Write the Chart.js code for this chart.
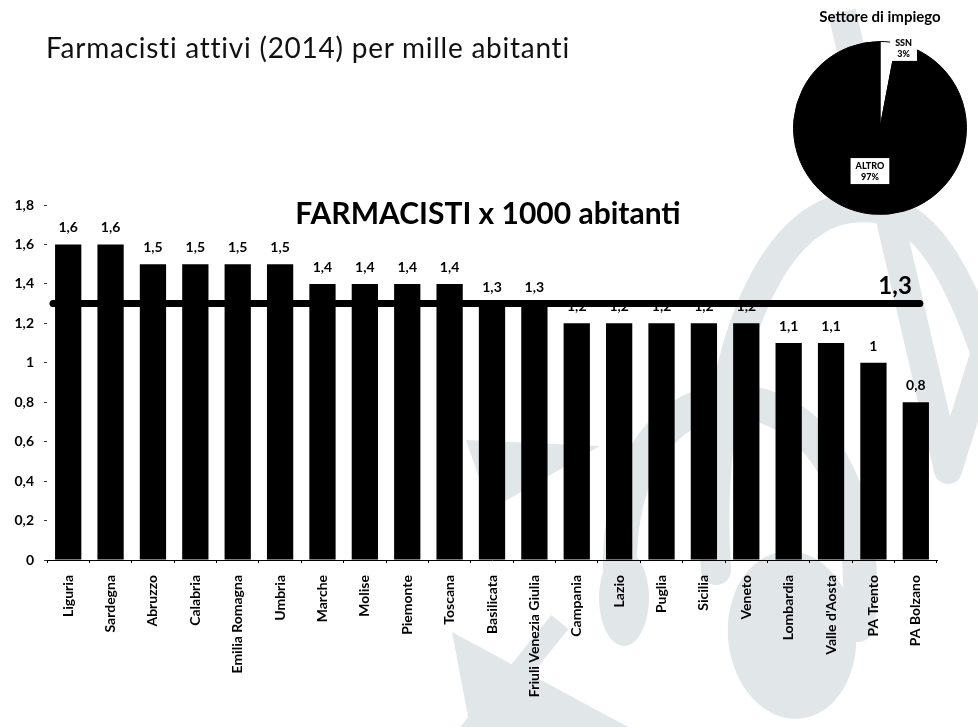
<!DOCTYPE html>
<html lang="it">
<head>
<meta charset="utf-8">
<title>Farmacisti attivi (2014) per mille abitanti</title>
<script src="https://cdn.jsdelivr.net/npm/chart.js@4.4.1/dist/chart.umd.min.js"></script>
<style>
  html, body { margin:0; padding:0; background:#fff; }
  body { width:978px; height:727px; position:relative; overflow:hidden; font-family:"Lato", sans-serif; }
  #barre { position:absolute; left:0; top:0; }
  #torta { position:absolute; left:782px; top:0; }
  .titolo-pagina {
    position:absolute; left:46px; top:30px;
    font-size:28px; color:#111; letter-spacing:0.75px; white-space:nowrap;
  }
</style>
</head>
<body>
<canvas id="barre" width="978" height="727"></canvas>
<div class="titolo-pagina">Farmacisti attivi (2014) per mille abitanti</div>
<canvas id="torta" width="196" height="230"></canvas>

<script>
// ── Dati ─────────────────────────────────────────────────────────
const regioni = [
  "Liguria", "Sardegna", "Abruzzo", "Calabria", "Emilia Romagna", "Umbria",
  "Marche", "Molise", "Piemonte", "Toscana", "Basilicata", "Friuli Venezia Giulia",
  "Campania", "Lazio", "Puglia", "Sicilia", "Veneto", "Lombardia",
  "Valle d'Aosta", "PA Trento", "PA Bolzano"
];
const farmacistiPerMille = [
  1.6, 1.6, 1.5, 1.5, 1.5, 1.5,
  1.4, 1.4, 1.4, 1.4, 1.3, 1.3,
  1.2, 1.2, 1.2, 1.2, 1.2, 1.1,
  1.1, 1.0, 0.8
];
const mediaNazionale = 1.3;
const yMax = 1.8;
const yPasso = 0.2;

const settori = ["SSN", "ALTRO"];
const quoteSettore = [3, 97];

// ── Helpers ──────────────────────────────────────────────────────
const FONT = "Lato, 'Open Sans', sans-serif";
const virgola = v => String(Math.round(v * 10) / 10).replace(".", ",");

// Light watermark painted before anything else
const filigrana = {
  id: "filigrana",
  beforeDraw(chart) {
    const c = chart.ctx;
    c.save();
    c.fillStyle = "#e1e6e9";
    c.strokeStyle = "#e1e6e9";
    c.lineCap = "round";
    c.lineJoin = "round";

    // arch on the right
    c.lineWidth = 30;
    c.beginPath();
    c.moveTo(716, 570);
    c.bezierCurveTo(704, 390, 760, 218, 850, 208);
    c.bezierCurveTo(918, 200, 952, 255, 990, 365);
    c.stroke();

    // inner loop joining the drop
    c.lineWidth = 34;
    c.beginPath();
    c.moveTo(620, 570);
    c.bezierCurveTo(618, 440, 690, 385, 760, 405);
    c.bezierCurveTo(840, 430, 868, 520, 858, 625);
    c.stroke();

    // V in the top-right corner
    c.lineCap = "butt";
    c.lineWidth = 28;
    c.beginPath();
    c.moveTo(842, 12);
    c.lineTo(948, 470);
    c.lineTo(992, 330);
    c.stroke();

    // drops under the axis
    c.beginPath();
    c.ellipse(792, 635, 64, 84, -0.1, 0, Math.PI * 2);
    c.fill();
    c.beginPath();
    c.ellipse(624, 598, 25, 48, 0, 0, Math.PI * 2);
    c.fill();

    // pointed tip on the left of the loop
    c.beginPath();
    c.moveTo(466, 440); c.lineTo(600, 446); c.lineTo(490, 510);
    c.closePath(); c.fill();

    // crossing bands bottom-centre
    c.beginPath();
    c.moveTo(452, 632); c.lineTo(470, 727); c.lineTo(628, 727);
    c.closePath(); c.fill();
    c.lineWidth = 22;
    c.beginPath();
    c.moveTo(560, 622); c.lineTo(468, 735);
    c.stroke();
    c.restore();
  }
};

// Value labels, national-average line and chart heading
const etichette = {
  id: "etichette",
  afterDatasetsDraw(chart) {
    const c = chart.ctx;
    const area = chart.chartArea;
    const xs = chart.scales.x, ys = chart.scales.y;
    const meta = chart.getDatasetMeta(0);

    c.save();
    c.fillStyle = "#000";
    c.textAlign = "center";
    c.textBaseline = "alphabetic";
    c.font = `bold 14px ${FONT}`;
    meta.data.forEach((bar, i) => {
      c.fillText(virgola(farmacistiPerMille[i]), bar.x, bar.y - 12);
    });

    // average line over the labels
    const yMedia = ys.getPixelForValue(mediaNazionale);
    const xFine = xs.getPixelForValue(regioni.length - 1) + 4;
    c.strokeStyle = "#000";
    c.lineWidth = 7;
    c.lineCap = "round";
    c.beginPath();
    c.moveTo(area.left + 6, yMedia);
    c.lineTo(xFine, yMedia);
    c.stroke();

    c.textAlign = "right";
    c.font = `bold 24px ${FONT}`;
    c.fillText(virgola(mediaNazionale), xFine - 8, yMedia - 10);

    c.textAlign = "center";
    c.font = `bold 30px ${FONT}`;
    c.fillText("FARMACISTI x 1000 abitanti", (area.left + area.right) / 2 - 4, area.top + 19);
    c.restore();
  }
};

// ── Grafico a barre ──────────────────────────────────────────────
new Chart(document.getElementById("barre"), {
  type: "bar",
  data: {
    labels: regioni,
    datasets: [{
      data: farmacistiPerMille,
      backgroundColor: "#000",
      borderWidth: 0,
      categoryPercentage: 1,
      barPercentage: 0.62
    }]
  },
  options: {
    responsive: false,
    animation: false,
    layout: { padding: { top: 205, right: 41, left: 0, bottom: 0 } },
    plugins: { legend: { display: false }, tooltip: { enabled: false } },
    scales: {
      x: {
        grid: { display: true, drawOnChartArea: false, offset: true, tickLength: 3, color: "#000" },
        border: { display: true, color: "#000", width: 1, dash: [3, 2] },
        ticks: {
          autoSkip: false, minRotation: 90, maxRotation: 90, padding: 12,
          color: "#000", font: { family: FONT, size: 14, weight: "bold" }
        },
        afterFit(scale) { scale.height = 167; }
      },
      y: {
        min: 0, max: yMax,
        grid: { display: true, drawOnChartArea: false, tickLength: 3, color: "#333" },
        border: { display: false },
        ticks: {
          stepSize: yPasso, padding: 10, color: "#000",
          font: { family: FONT, size: 14, weight: "bold" },
          callback: v => virgola(v)
        },
        afterFit(scale) { scale.width = 47; }
      }
    }
  },
  plugins: [filigrana, etichette]
});

// ── Torta: settore di impiego ────────────────────────────────────
const etichetteTorta = {
  id: "etichetteTorta",
  afterDatasetsDraw(chart) {
    const c = chart.ctx;
    const spost = [{ f: 0.93, dx: 16, dy: 0 }, { f: 0.5, dx: -6, dy: 0 }];
    c.save();
    c.font = `900 9px ${FONT}`;
    c.textAlign = "center";
    c.textBaseline = "middle";
    chart.getDatasetMeta(0).data.forEach((arc, i) => {
      const mid = (arc.startAngle + arc.endAngle) / 2;
      const r = arc.outerRadius * spost[i].f;
      const x = arc.x + Math.cos(mid) * r + spost[i].dx;
      const y = arc.y + Math.sin(mid) * r + spost[i].dy;
      const righe = [settori[i], quoteSettore[i] + "%"];
      const w = Math.max(...righe.map(t => c.measureText(t).width)) + 10;
      c.fillStyle = "#fff";
      c.fillRect(x - w / 2, y - 13, w, 26);
      c.fillStyle = "#000";
      c.fillText(righe[0], x, y - 5);
      c.fillText(righe[1], x, y + 6);
    });
    c.restore();
  }
};

new Chart(document.getElementById("torta"), {
  type: "pie",
  data: {
    labels: settori,
    datasets: [{
      data: quoteSettore,
      backgroundColor: ["#fff", "#000"],
      borderColor: "#000",
      borderWidth: 1
    }]
  },
  options: {
    responsive: false,
    animation: false,
    layout: { padding: { bottom: 15 } },
    plugins: {
      legend: { display: false },
      tooltip: { enabled: false },
      title: {
        display: true, text: "Settore di impiego", color: "#000",
        font: { family: FONT, size: 15, weight: "bold" },
        padding: { top: 8, bottom: 15 }
      }
    }
  },
  plugins: [etichetteTorta]
});
</script>
</body>
</html>
